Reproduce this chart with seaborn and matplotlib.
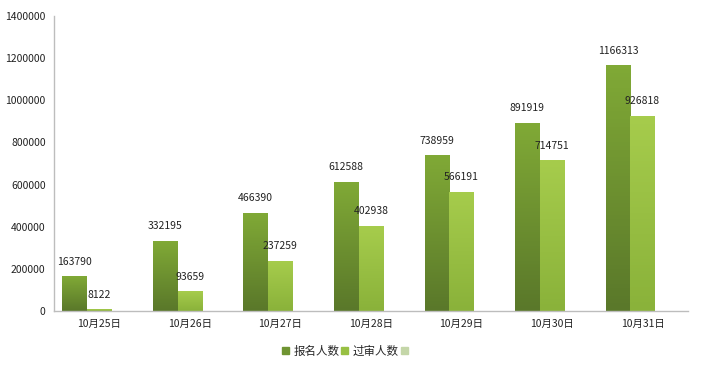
import seaborn as sns
import matplotlib.pyplot as plt
import matplotlib.patches as mpatches
import numpy as np
import pandas as pd

# data
dates = ["10月25日", "10月26日", "10月27日", "10月28日", "10月29日", "10月30日", "10月31日"]
signup = [163790, 332195, 466390, 612588, 738959, 891919, 1166313]
approved = [8122, 93659, 237259, 402938, 566191, 714751, 926818]
empty = [0, 0, 0, 0, 0, 0, 0]  # third (unnamed) series, no values
series = ["报名人数", "过审人数", " "]

df = pd.DataFrame({
    "date": dates * 3,
    "count": signup + approved + empty,
    "series": [s for s in series for _ in dates],
})

sns.set_theme(style="white")
plt.rcParams["font.family"] = ["Noto Sans CJK SC", "DejaVu Sans"]

# gradient colours (top, bottom) per series
grad = {
    series[0]: ("#80a936", "#5a782a"),
    series[1]: ("#a6cc4c", "#8ab23a"),
}
flat = {series[0]: "#6f9432", series[1]: "#98c043", series[2]: "#c4d6a8"}

fig = plt.figure(figsize=(7.13, 3.65), dpi=100)
ax = fig.add_axes([0.0757, 0.148, 0.889, 0.808])

sns.barplot(data=df, x="date", y="count", hue="series", palette=flat,
            width=0.815, saturation=1, legend=False, ax=ax)

# swap the flat fills for vertical gradients
for i, cont in enumerate(ax.containers[:2]):
    top, bot = grad[series[i]]
    cmap = sns.blend_palette([bot, top], as_cmap=True)
    for bar in cont:
        x0, y0 = bar.get_x(), bar.get_y()
        w, h = bar.get_width(), bar.get_height()
        img = ax.imshow(np.linspace(0, 1, 64).reshape(-1, 1), cmap=cmap,
                        extent=[x0, x0 + w, y0, y0 + h], origin="lower",
                        aspect="auto", zorder=2)
        img.set_clip_path(bar)
        bar.set_facecolor("none")
        bar.set_edgecolor("none")
ax.set_aspect("auto")
ax.set_ylim(0, 1400000)
ax.set_xlim(-0.5, len(dates) - 0.5)

# value labels
for cont, vals in zip(ax.containers[:2], [signup, approved]):
    for bar, v in zip(cont, vals):
        ax.annotate(str(v), (bar.get_x() + bar.get_width() / 2, bar.get_height()),
                    xytext=(0, 7), textcoords="offset points",
                    ha="center", va="bottom", fontsize=7.5, color="#222222", zorder=5)

ax.set_xlabel("")
ax.set_ylabel("")
ax.set_yticks(np.arange(0, 1400001, 200000))
ax.set_yticklabels([str(v) for v in range(0, 1400001, 200000)])
ax.tick_params(axis="both", labelsize=7.5, colors="#222222", length=0, pad=6)
for s in ["top", "right"]:
    ax.spines[s].set_visible(False)
for s in ["left", "bottom"]:
    ax.spines[s].set_color("#bdbdbd")
    ax.spines[s].set_linewidth(1)

handles = [mpatches.Patch(color=flat[s]) for s in series]
fig.legend(handles, series[:2] + [""], loc="center", bbox_to_anchor=(0.487, 0.038),
           ncol=3, frameon=False, fontsize=8.3, handlelength=0.6, handleheight=0.6,
           handletextpad=0.4, columnspacing=0.2)

fig.savefig("out.png", dpi=100)
